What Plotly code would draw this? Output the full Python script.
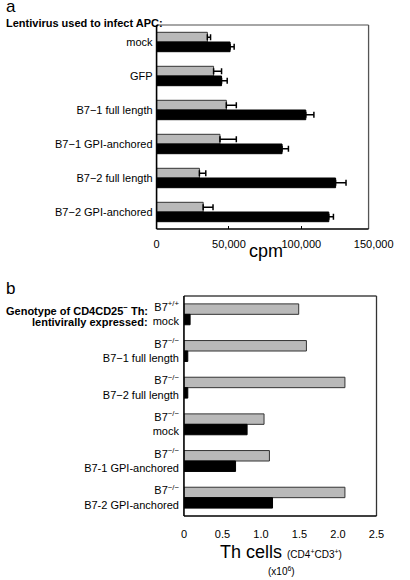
import plotly.graph_objects as go

# ---------------- data ----------------
cats_a = ["mock", "GFP", "B7−1 full length", "B7−1 GPI-anchored",
          "B7−2 full length", "B7−2 GPI-anchored"]
gray_a = [35100, 39400, 48200, 43800, 29600, 32200]
gray_a_err = [2200, 5500, 6900, 11300, 4400, 6800]
black_a = [50800, 44900, 103100, 86700, 123700, 119000]
black_a_err = [2800, 3900, 5600, 4400, 7200, 3200]
ticks_a = [0, 50000, 100000, 150000]
ticktext_a = ["0", "50,000", "100,000", "150,000"]

cats_b = ["B7<sup>+/+</sup><br>mock",
          "B7<sup>−/−</sup><br>B7−1 full length",
          "B7<sup>−/−</sup><br>B7−2 full length",
          "B7<sup>−/−</sup><br>mock",
          "B7<sup>−/−</sup><br>B7-1 GPI-anchored",
          "B7<sup>−/−</sup><br>B7-2 GPI-anchored"]
gray_b = [1.49, 1.59, 2.09, 1.04, 1.11, 2.09]
black_b = [0.08, 0.05, 0.05, 0.82, 0.67, 1.15]
ticks_b = [0, 0.5, 1.0, 1.5, 2.0, 2.5]
ticktext_b = ["0", "0.5", "1.0", "1.5", "2.0", "2.5"]

W, H = 410, 580
FONT = "Liberation Sans, Arial, Helvetica, sans-serif"
GRAY = "#b9b9b9"

def px(x):
    return x / W

def py(y):
    return 1 - y / H

fig = go.Figure()

# panel a
fig.add_trace(go.Bar(y=cats_a, x=gray_a, orientation="h", xaxis="x", yaxis="y",
                     marker=dict(color=GRAY, line=dict(color="#333333", width=1)),
                     error_x=dict(type="data", symmetric=False, array=gray_a_err,
                                  arrayminus=[0] * len(gray_a), color="black",
                                  thickness=1.5, width=3),
                     showlegend=False))
fig.add_trace(go.Bar(y=cats_a, x=black_a, orientation="h", xaxis="x", yaxis="y",
                     marker=dict(color="black", line=dict(color="black", width=1)),
                     error_x=dict(type="data", symmetric=False, array=black_a_err,
                                  arrayminus=[0] * len(black_a), color="black",
                                  thickness=1.5, width=3),
                     showlegend=False))
# panel b
fig.add_trace(go.Bar(y=cats_b, x=gray_b, orientation="h", xaxis="x2", yaxis="y2",
                     marker=dict(color=GRAY, line=dict(color="#333333", width=1)),
                     showlegend=False))
fig.add_trace(go.Bar(y=cats_b, x=black_b, orientation="h", xaxis="x2", yaxis="y2",
                     marker=dict(color="black", line=dict(color="black", width=1)),
                     showlegend=False))

a_left, a_right_axis, a_right_box, a_top, a_bot = 162.7, 392.7, 387.3, 25, 229
b_left, b_right, b_top, b_bot = 191.7, 395.7, 296, 516

tickfont = dict(family=FONT, size=11, color="black")

fig.update_layout(
    width=W, height=H,
    margin=dict(l=0, r=0, t=0, b=0),
    paper_bgcolor="white", plot_bgcolor="white",
    barmode="group", bargap=0.43, bargroupgap=0,
    font=dict(family=FONT, size=11, color="black"),
    xaxis=dict(domain=[px(a_left), px(a_right_axis)], anchor="y",
               range=[0, 150000], tickvals=ticks_a, ticktext=ticktext_a,
               showgrid=False, zeroline=False, showline=False,
               ticks="inside", ticklen=3, tickcolor="black", tickwidth=1,
               tickfont=tickfont, ticklabelstandoff=7),
    yaxis=dict(domain=[py(a_bot), py(a_top)], anchor="x",
               autorange="reversed", showgrid=False, zeroline=False,
               showline=False, ticks="", tickfont=tickfont,
               ticklabelstandoff=3),
    xaxis2=dict(domain=[px(b_left), px(b_right)], anchor="y2",
                range=[0, 2.5], tickvals=ticks_b, ticktext=ticktext_b,
                showgrid=False, zeroline=False, showline=False,
                ticks="", tickfont=tickfont, ticklabelstandoff=10),
    yaxis2=dict(domain=[py(b_bot), py(b_top)], anchor="x2",
                autorange="reversed", showgrid=False, zeroline=False,
                showline=False, ticks="", tickfont=tickfont,
                ticklabelstandoff=4),
)

shapes = []
def line(x0, y0, x1, y1, color, w=1.3):
    shapes.append(dict(type="line", xref="paper", yref="paper",
                       x0=px(x0), y0=py(y0), x1=px(x1), y1=py(y1),
                       line=dict(color=color, width=w)))

# frame a
line(a_left, a_top, a_right_box, a_top, "#888888")
line(a_right_box, a_top, a_right_box, a_bot, "#555555")
line(a_left, a_bot, a_right_box, a_bot, "black")
line(a_left, a_top, a_left, a_bot, "black", 1.6)
# frame b
line(b_left, b_top, b_right, b_top, "#444444")
line(b_right, b_top, b_right, b_bot, "#333333")
line(b_left, b_bot, b_right, b_bot, "black")
line(b_left, b_top, b_left, b_bot, "black", 1.6)
fig.update_layout(shapes=shapes)

ann = []
def text(x, y, s, size=11, xanchor="left", bold=False):
    f = dict(family=FONT, size=size, color="black")
    if bold:
        f["weight"] = "bold"
    ann.append(dict(xref="paper", yref="paper", x=px(x), y=py(y), text=s,
                    showarrow=False, xanchor=xanchor, yanchor="middle", font=f))

text(1, 7, "a", size=17)
text(1, 23, "Lentivirus used to infect APC:", bold=True)
text(279, 251, "cpm", size=18, xanchor="center")
text(1, 288, "b", size=17)
text(156, 309.5, "Genotype of CD4CD25<sup>−</sup> Th:", xanchor="right", bold=True)
text(156, 321.5, "lentivirally expressed:", xanchor="right", bold=True)
text(294, 552, "Th cells <span style='font-size:10px'>(CD4<sup>+</sup>CD3<sup>+</sup>)</span>",
     size=18, xanchor="center")
text(295, 571, "(x10<sup>6</sup>)", size=10, xanchor="center")
fig.update_layout(annotations=ann)

fig.write_html("out.html",
               config={"displayModeBar": False},
               post_script="document.body.style.margin='0';"
                           "document.body.style.overflow='hidden';")
